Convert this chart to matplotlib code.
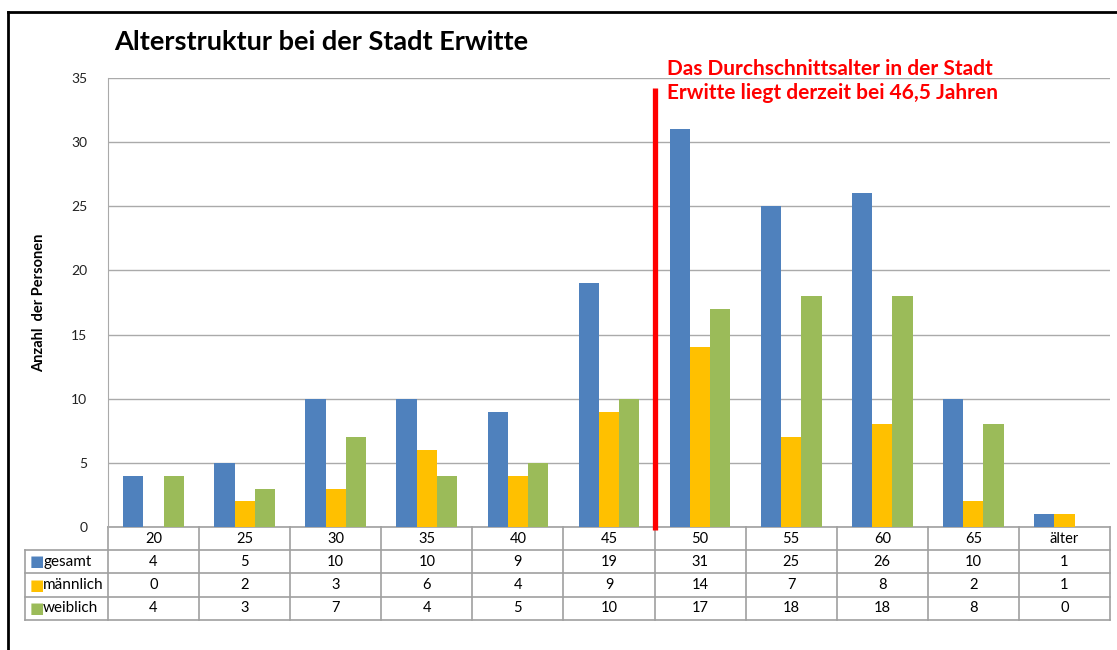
import matplotlib
matplotlib.use("Agg")
import matplotlib.pyplot as plt
from matplotlib.lines import Line2D
import numpy as np

plt.rcParams["font.family"] = ["Lato", "DejaVu Sans"]

categories = ["20", "25", "30", "35", "40", "45", "50", "55", "60", "65", "älter"]
gesamt = [4, 5, 10, 10, 9, 19, 31, 25, 26, 10, 1]
maennlich = [0, 2, 3, 6, 4, 9, 14, 7, 8, 2, 1]
weiblich = [4, 3, 7, 4, 5, 10, 17, 18, 18, 8, 0]
series_names = ["gesamt", "männlich", "weiblich"]
series_colors = ["#4F81BD", "#FFC000", "#9BBB59"]
mean_age = "46,5"

W, H = 1117, 650
fig = plt.figure(figsize=(W / 100, H / 100), dpi=100)
ax = fig.add_axes([108 / W, 1 - 527 / H, (1110 - 108) / W, (527 - 78) / H])

x = np.arange(len(categories))
bw = 0.222
for k, (vals, col) in enumerate(zip([gesamt, maennlich, weiblich], series_colors)):
    ax.bar(x + (k - 1) * bw, vals, width=bw, color=col, zorder=3)

ax.set_xlim(-0.5, len(categories) - 0.5)
ax.set_ylim(0, 35)
ax.set_yticks(range(0, 36, 5))
ax.tick_params(axis="y", length=0, pad=15, labelsize=10, colors="#222222")
ax.set_xticks([])
ax.grid(axis="y", color="#AAAAAA", lw=1, zorder=0)
for s in ["top", "right", "bottom"]:
    ax.spines[s].set_visible(False)
ax.spines["left"].set_color("#AAAAAA")

ax.set_ylabel("Anzahl  der Personen", fontsize=10.5, fontweight="bold", labelpad=18)

# red line for mean age (between 45 and 50)
xm = categories.index("45") + 0.5
ax.plot([xm, xm], [-0.25, 34.2], color="#FF0000", lw=3.8, clip_on=False, zorder=5,
        solid_capstyle="butt")
ax.text(xm + 0.14, 36.5, "Das Durchschnittsalter in der Stadt\nErwitte liegt derzeit bei "
        + mean_age + " Jahren", color="#FF0000", fontsize=15, fontweight="bold",
        va="top", ha="left", linespacing=1.25, clip_on=False)

fig.text(114 / W, 1 - 42 / H, "Alterstruktur bei der Stadt Erwitte", fontsize=19.5,
         fontweight="bold", va="center", ha="left")

# data table below the axes
tr = ax.get_xaxis_transform()
rh = 23.2 / (527 - 78)
left = -0.5 - 83 / 91.1
right = len(categories) - 0.5
gc = "#A0A0A0"
lines = []
lines.append(([-0.5, right], [0, 0]))
for r in range(1, 5):
    lines.append(([left, right], [-r * rh, -r * rh]))
for b in np.arange(-0.5, len(categories)):
    lines.append(([b, b], [0, -4 * rh]))
lines.append(([left, left], [-rh, -4 * rh]))
for xs, ys in lines:
    ax.add_line(Line2D(xs, ys, transform=tr, color=gc, lw=1.2, clip_on=False))

for i, c in enumerate(categories):
    ax.text(i, -0.5 * rh, c, transform=tr, ha="center", va="center", fontsize=10.5)
for r, (name, vals, col) in enumerate(zip(series_names, [gesamt, maennlich, weiblich],
                                         series_colors)):
    yc = -(r + 1.5) * rh
    for i, v in enumerate(vals):
        ax.text(i, yc, str(v), transform=tr, ha="center", va="center", fontsize=10.5)
    ax.text(left + 0.05, yc, "\u25A0", transform=tr, ha="left", va="center",
            fontsize=11, color=col, family="DejaVu Sans")
    ax.text(left + 0.2, yc, name, transform=tr, ha="left", va="center", fontsize=11)

# outer frame (top and left)
fig.add_artist(Line2D([8 / W, 1], [1 - 12 / H, 1 - 12 / H], transform=fig.transFigure,
                      color="black", lw=2))
fig.add_artist(Line2D([8 / W, 8 / W], [1 - 12 / H, 0], transform=fig.transFigure,
                      color="black", lw=2))

fig.savefig("out.png", dpi=100)
